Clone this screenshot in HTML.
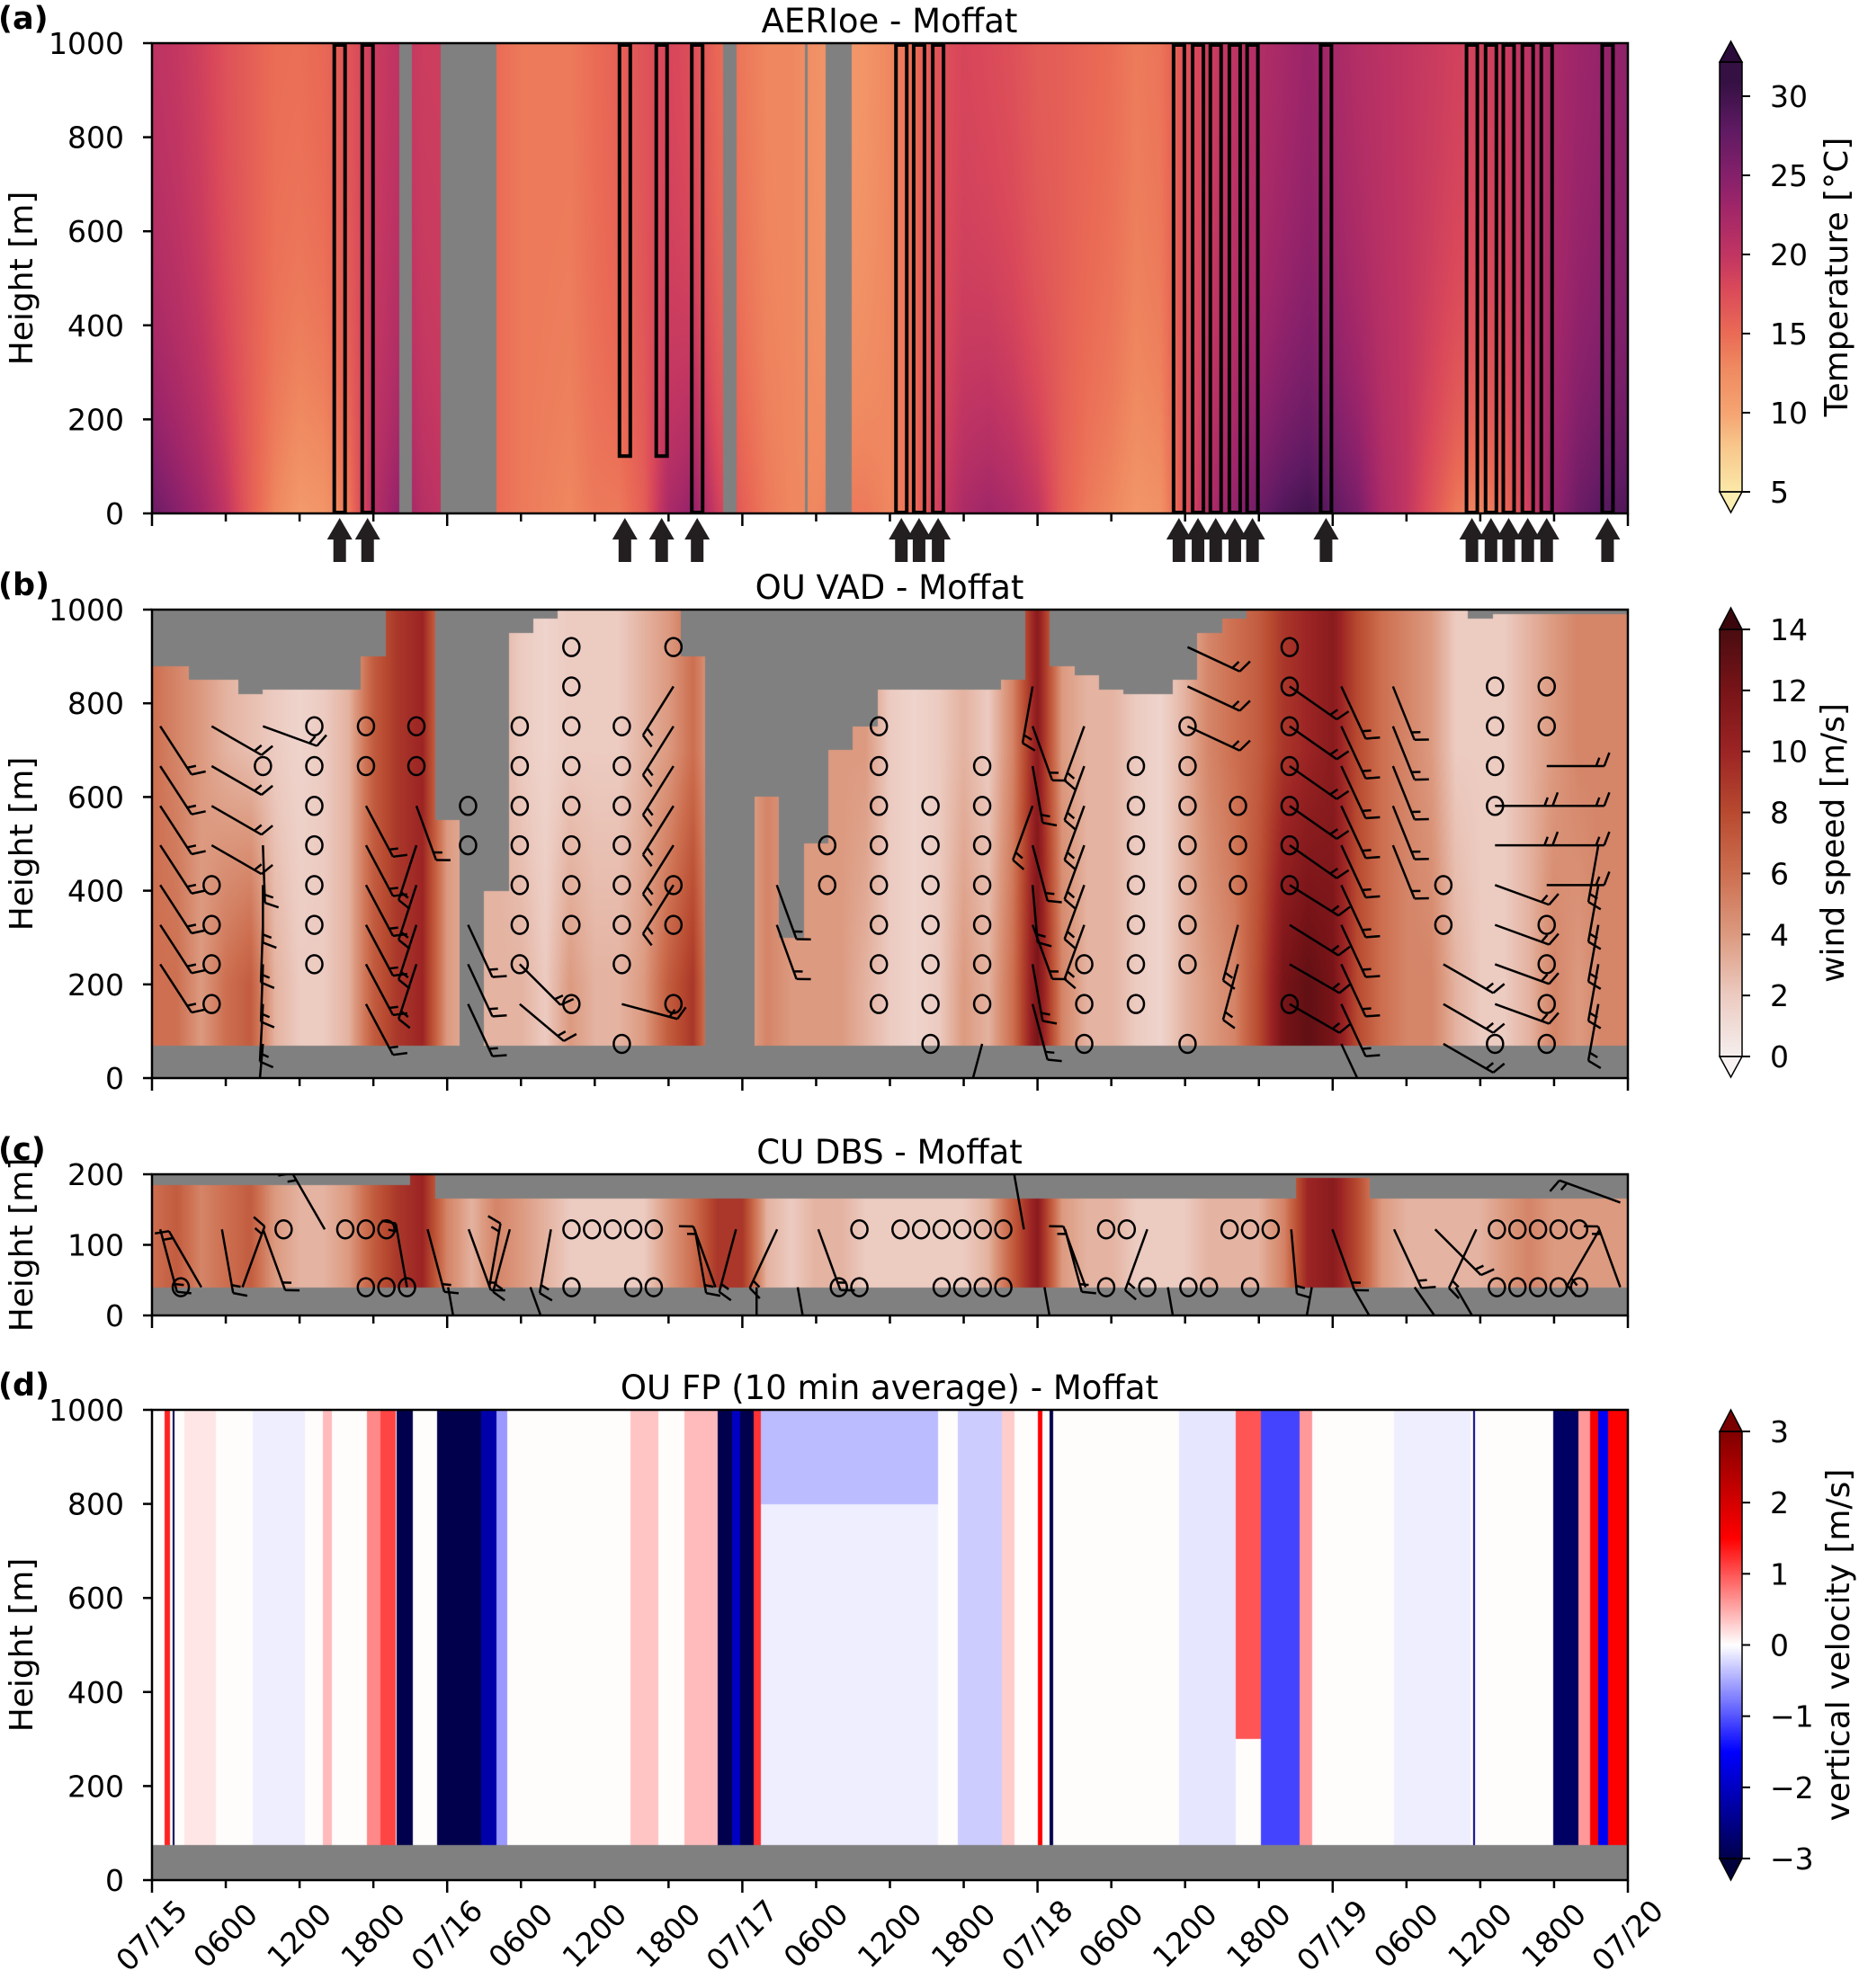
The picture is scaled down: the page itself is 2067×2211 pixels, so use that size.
<!DOCTYPE html>
<html><head><meta charset="utf-8"><style>
body{margin:0;background:#fff}
#root{position:relative;width:2067px;height:2211px;overflow:hidden;background:#fff;font-family:"DejaVu Sans","Liberation Sans",sans-serif}
canvas{position:absolute}
svg{position:absolute;left:0;top:0}
svg text{font-family:"DejaVu Sans","Liberation Sans",sans-serif;fill:#000}
</style></head><body>
<div id="root">
<canvas id="ca"></canvas>
<canvas id="cb"></canvas>
<canvas id="cc"></canvas>
<canvas id="cd"></canvas>
<canvas id="cba"></canvas>
<canvas id="cbb"></canvas>
<canvas id="cbd"></canvas>
<svg id="svg" width="2067" height="2211"></svg>
</div>
<script>
// ---------- data ----------
const tTop=[20,19.5,18.5,17,16,15,15,15.5,17,19,20,19,19,17,15,14,14,14,15,16,17,18,17,15,14,13,13,12,11,11.5,13,15,17,18,17.5,17,16,16,15.5,15,14,14.5,17,19,20,21,22,23,22,21,20.5,20,19.5,19,19,19.5,20.5,22,23,23.5,24];
const tBot=[27,25,23,20,16,13,11,11.5,14,21,24,21,20,17,15,14,13.5,13,14,14,16,22,24,19,16,14,13,13,14,14,13,15,19,22,23,22,20,16,14,13,11.5,12,17,22,24,27,29,30,28,26,22,20,17,14,13,15,19,24,27,28.5,29];
const aGapStart=[20.1,23.5,46.4,53.1,54.8];
const aGapEnd=[21.1,28.0,47.5,53.3,56.9];
const boxHours=[15.26,17.53,38.45,41.44,44.33,60.93,62.37,63.92,83.5,85.05,86.49,88.04,89.48,95.46,107.32,108.87,110.31,111.86,113.4,118.35];
const boxBottom=[0,0,120,120,0,0,0,0,0,0,0,0,0,0,0,0,0,0,0,0];
const bTop=[880,880,850,850,820,830,830,830,830,900,1000,1000,550,70,400,950,980,1000,1000,1000,1000,1000,900,70,70,600,300,500,700,750,830,830,830,830,830,850,1000,880,860,830,820,820,850,950,980,1000,1000,1000,1000,1000,1000,1000,1000,1000,980,990,990,990,990,990,990];
const bLow=[6,6,4,6,7,3,2,2,3,7,9,10,4,3,3,3,2,4,3,3,4,7,9,3,3,5,4,4,4,3,2,1.5,2,4,3,6,12,5,3,3,2,1.5,3,4,5,8,12,13,12,8,6,5,5,3,2,2,3,5,4,5,5];
const bHigh=[6,5,4,3,2.5,2,1.5,2,3,7,9,10,4,3,3,2,1.5,2,2,2,3,4,6,3,3,5,4,4,4,4,2,1.5,2,3,2,5,11,4,3,3,2,1.5,3,5,6,7,9,10,11,8,6,5,4,2,2,2,3,4,5,5,5];
const barbTimes=[0.67,4.85,9.02,13.2,17.4,21.5,25.7,29.9,34.1,38.2,42.4,46.6,50.8,54.9,59.1,63.3,67.5,71.6,75.8,80.0,84.2,88.3,92.5,96.7,100.9,105.0,109.2,113.4,117.6];
const barbLevels=[73,158,243,327,412,497,581,666,751,836,920];
const calmCol=[1,1,1,1,2,3,3,3,3,3,3,3,4,4,5,5,6,6,7,7,7,7,7,7,7,8,8,8,8,8,8,8,8,8,9,9,9,9,9,9,9,9,10,10,10,10,13,13,14,14,14,14,14,14,14,14,15,15,15,15,15,15,15,16,16,16,16,16,16,16,18,18,18,19,19,19,19,19,19,19,20,20,20,20,20,20,20,20,21,21,21,22,22,22,22,22,22,22,22,25,25,26,26,26,26,26,27,27,27,27,27,27];
const calmLev=[1,2,3,4,7,2,3,4,5,6,7,8,7,8,7,8,5,6,2,3,4,5,6,7,8,1,3,4,5,6,7,8,9,10,0,2,3,4,5,6,7,8,1,3,4,10,4,5,1,2,3,4,5,6,7,8,0,1,2,3,4,5,6,1,2,3,4,5,6,7,0,1,2,1,2,3,4,5,6,7,0,2,3,4,5,6,7,8,4,5,6,1,4,5,6,7,8,9,10,3,4,0,6,7,8,9,0,1,2,3,8,9];
const barbCol=[0,0,0,0,0,0,0,1,1,1,1,2,2,2,2,2,2,2,4,4,4,4,4,4,5,5,5,5,5,6,6,6,7,7,9,10,10,10,10,10,10,12,12,16,17,17,17,17,17,17,17,17,17,18,18,18,18,18,18,20,20,20,21,21,22,22,22,22,22,22,22,22,22,23,23,23,23,23,23,23,23,23,23,24,24,24,24,24,25,25,25,26,26,26,26,26,26,27,27,27,27,28,28,28,28,28];
const barbLev=[2,3,4,5,6,7,8,5,6,7,8,0,1,2,3,4,5,8,1,2,3,4,5,6,2,3,4,5,6,1,2,3,1,2,1,4,5,6,7,8,9,3,4,0,1,2,3,4,5,6,7,8,9,3,4,5,6,7,8,8,9,10,2,3,1,2,3,4,5,6,7,8,9,0,1,2,3,4,5,6,7,8,9,5,6,7,8,9,0,1,2,1,2,3,4,5,6,4,5,6,7,1,2,3,4,5];
const barbAng=[57,57,57,57,57,57,57,30,30,30,30,95,93,92,92,90,88,20,62,62,62,62,62,62,108,108,108,108,70,65,65,65,40,45,15,122,122,122,122,122,122,70,70,105,75,80,70,85,75,110,80,70,100,110,110,110,110,110,110,25,25,25,105,105,30,30,32,32,35,35,35,35,35,65,65,65,65,65,65,65,65,65,65,68,68,68,68,68,30,30,30,20,20,20,20,0,0,0,0,0,0,100,100,100,100,100];
const cTop=[185,185,185,185,185,185,185,185,185,185,185,200,165,165,165,165,165,165,165,165,165,165,165,165,165,165,165,165,165,165,165,165,165,165,165,165,165,165,165,165,165,165,165,165,165,165,165,195,195,195,165,165,165,165,165,165,165,165,165,165,165];
const cSpeed=[6,7,5,6,7,4,3,3,4,7,9,10,5,3,5,4,3,2,2,2,2,4,6,9,9,3,2,3,3,2,2,2,2,2,3,7,11,4,3,3,2,2,2,3,3,3,5,10,11,8,4,3,3,3,3,4,5,4,4,4,4];
const cCalmCol=[6,9,10,11,20,21,22,23,24,34,36,37,38,39,40,41,46,47,52,53,54,65,66,67,68,69,1,10,11,12,20,23,24,33,34,38,39,40,41,46,48,50,51,53,65,66,67,68,69];
const cCalmZ=[122,122,122,122,122,122,122,122,122,122,122,122,122,122,122,122,122,122,122,122,122,122,122,122,122,122,40,40,40,40,40,40,40,40,40,40,40,40,40,40,40,40,40,40,40,40,40,40,40];
const cBarbCol=[0,2,3,4,5,8,12,13,14,15,16,17,18,19,26,27,28,29,30,31,32,42,43,44,45,48,49,55,56,57,58,60,61,62,63,64,70,71,71];
const cBarbZ=[122,40,122,40,122,122,40,122,40,122,40,122,40,122,122,40,122,40,122,40,122,122,40,122,40,122,40,122,40,122,40,122,40,122,40,122,122,40,160];
const cBarbAng=[75,240,80,290,70,240,260,75,80,70,280,105,70,100,80,250,105,90,115,80,70,260,80,75,250,110,80,85,100,70,60,65,55,45,60,115,120,250,200];
const wStart=[1.03,1.65,2.6,8.2,13.9,17.5,18.6,19.9,23.2,26.8,28.0,38.9,43.3,46.0,47.2,47.8,48.9,49.5,49.5,65.5,69.1,72.0,73.0,83.5,88.1,90.2,93.3,101.0,107.4,113.9,116.0,116.9,117.6,118.4];
const wEnd=[1.44,1.86,5.2,12.4,14.6,18.6,19.8,21.2,26.8,28.0,28.9,41.2,46.0,47.2,47.8,48.9,49.5,63.9,63.9,69.1,70.1,72.4,73.3,88.1,90.2,93.3,94.3,107.2,107.6,116.0,116.9,117.6,118.4,120];
const wVal=[1.3,-3,0.15,-0.1,0.4,0.7,1.1,-3,-3,-2.2,-0.6,0.35,0.4,-3,-2,-3,1.2,-0.1,-0.4,-0.3,0.3,1.5,-3,-0.15,1.0,-1.1,0.6,-0.1,-2.5,-2.8,0.6,1.6,-1.6,1.5];
const wZlow=[75,75,75,75,75,75,75,75,75,75,75,75,75,75,75,75,75,75,800,75,75,75,75,75,300,75,75,75,75,75,75,75,75,75];
const xTickHours=[0,6,12,18,24,30,36,42,48,54,60,66,72,78,84,90,96,102,108,114,120];
const xTickLabels=["07/15","0600","1200","1800","07/16","0600","1200","1800","07/17","0600","1200","1800","07/18","0600","1200","1800","07/19","0600","1200","1800","07/20"];
const yTicks1000=[0,200,400,600,800,1000];
const yTicks200=[0,100,200];
const tempTicks=[5,10,15,20,25,30];
const windTicks=[0,2,4,6,8,10,12,14];
const velTicks=[-3,-2,-1,0,1,2,3];

// ---------- layout ----------
const X0=169,X1=1810,W=X1-X0;
const P={a:{top:48,bot:571,max:1000},b:{top:678,bot:1199,max:1000},c:{top:1306,bot:1463,max:200},d:{top:1568,bot:2091,max:1000}};
function xOf(h){return X0+h/120*W;}
function yOf(p,z){return p.bot-z/p.max*(p.bot-p.top);}
function interp(arr,h){const f=h/2;const i=Math.min(Math.floor(f),arr.length-2);const t=f-i;return arr[i]*(1-t)+arr[i+1]*t;}
function stepv(arr,h){return arr[Math.min(Math.round(h/2),arr.length-1)];}
function hex(c){return [parseInt(c.slice(1,3),16),parseInt(c.slice(3,5),16),parseInt(c.slice(5,7),16)];}
function cmap(stops,v){if(v<=stops[0][0])return hex(stops[0][1]);for(let i=1;i<stops.length;i++){if(v<=stops[i][0]){const a=stops[i-1],b=stops[i];const t=(v-a[0])/(b[0]-a[0]);const ca=hex(a[1]),cb=hex(b[1]);return [0,1,2].map(k=>Math.round(ca[k]+(cb[k]-ca[k])*t));}}return hex(stops[stops.length-1][1]);}
const TSTOPS=[[5,"#fbe9a9"],[8,"#f8c58a"],[10,"#f5a472"],[13,"#ef8860"],[15,"#ea6b55"],[18,"#d9485a"],[20,"#c13562"],[23,"#a02669"],[25,"#86206b"],[28,"#5e1a62"],[31,"#341043"]];
const WSTOPS=[[0,"#f5efee"],[2,"#eccbc1"],[4,"#dc9a80"],[6,"#cd6f50"],[8,"#b84a30"],[10,"#9c2424"],[12,"#781418"],[14,"#4a0c10"]];
const VSTOPS=[[-3,"#00004c"],[-1.5,"#0000ff"],[0,"#ffffff"],[1.5,"#ff0000"],[3,"#800000"]];
const GRAY=[128,128,128];

function setupCanvas(id,x,y,w,h){const c=document.getElementById(id);c.width=w;c.height=h;c.style.left=x+'px';c.style.top=y+'px';return c.getContext('2d');}
function fillPix(img,w,x,y,col){const o=(y*w+x)*4;img.data[o]=col[0];img.data[o+1]=col[1];img.data[o+2]=col[2];img.data[o+3]=255;}
function drawHeat(id,p,fn){const h=p.bot-p.top;const ctx=setupCanvas(id,X0,p.top,W,h);const img=ctx.createImageData(W,h);
 for(let px=0;px<W;px++){const hr=(px+0.5)/W*120;for(let py=0;py<h;py++){const z=(h-py-0.5)/h*p.max;fillPix(img,W,px,py,fn(hr,z));}}
 ctx.putImageData(img,0,0);}

drawHeat('ca',P.a,(hr,z)=>{for(let i=0;i<aGapStart.length;i++){if(hr>=aGapStart[i]&&hr<=aGapEnd[i])return GRAY;}
 const tt=interp(tTop,hr),tb=interp(tBot,hr);const w=Math.exp(-z/350);return cmap(TSTOPS,tt+(tb-tt)*w);});
drawHeat('cb',P.b,(hr,z)=>{if(z<70)return GRAY;if(z>stepv(bTop,hr))return GRAY;const lo=interp(bLow,hr),hi=interp(bHigh,hr);const t=Math.min(1,Math.max(0,(z-200)/500));return cmap(WSTOPS,lo+(hi-lo)*t);});
drawHeat('cc',P.c,(hr,z)=>{if(z<40)return GRAY;if(z>stepv(cTop,hr))return GRAY;return cmap(WSTOPS,interp(cSpeed,hr));});
drawHeat('cd',P.d,(hr,z)=>{if(z<75)return GRAY;let v=0.02;for(let i=0;i<wStart.length;i++){if(hr>=wStart[i]&&hr<wEnd[i]&&z>=wZlow[i])v=wVal[i];}return cmap(VSTOPS,v);});

function drawCbar(id,x,y0,y1,vmin,vmax,stops){const w=25,h=y1-y0;const ctx=setupCanvas(id,x,y0,w,h);const img=ctx.createImageData(w,h);
 for(let py=0;py<h;py++){const v=vmax-(py+0.5)/h*(vmax-vmin);const c=cmap(stops,v);for(let px=0;px<w;px++)fillPix(img,w,px,py,c);}ctx.putImageData(img,0,0);}
const CBX=1912;
const CB={a:{y0:69,y1:547,vmin:5,vmax:32.2,tip0:46,tip1:570,lo:5,hi:30,yLo:547,yHi:107},
 b:{y0:700,y1:1175,vmin:0,vmax:14,tip0:676,tip1:1198,lo:0,hi:14,yLo:1175,yHi:700},
 d:{y0:1592,y1:2067,vmin:-3,vmax:3,tip0:1568,tip1:2091,lo:-3,hi:3,yLo:2067,yHi:1592}};
drawCbar('cba',CBX,CB.a.y0,CB.a.y1,CB.a.vmin,CB.a.vmax,TSTOPS);
drawCbar('cbb',CBX,CB.b.y0,CB.b.y1,CB.b.vmin,CB.b.vmax,WSTOPS);
drawCbar('cbd',CBX,CB.d.y0,CB.d.y1,CB.d.vmin,CB.d.vmax,VSTOPS);

const NS="http://www.w3.org/2000/svg";const svg=document.getElementById('svg');
function mk(tag,attrs,parent){const e=document.createElementNS(NS,tag);for(const k in attrs)e.setAttribute(k,attrs[k]);(parent||svg).appendChild(e);return e;}
function txt(s,x,y,size,anchor,extra){const t=mk('text',Object.assign({x:x,y:y,'font-size':size,'text-anchor':anchor||'middle'},extra||{}));t.textContent=s;return t;}

// clip paths for panels b and c
const defs=mk('defs',{});
['b','c'].forEach(k=>{const cp=mk('clipPath',{id:'clip'+k},defs);const p=P[k];mk('rect',{x:X0,y:p.top,width:W,height:p.bot-p.top},cp);});

function cbarDecor(cb,topCol,botCol,name){
 const g=mk('g',{});
 
 
 const cx=CBX+12.5;
 mk('polygon',{points:`${CBX},${cb.y0} ${CBX+25},${cb.y0} ${cx},${cb.tip0}`,fill:topCol,stroke:'#000','stroke-width':1.5},g);
 mk('polygon',{points:`${CBX},${cb.y1} ${CBX+25},${cb.y1} ${cx},${cb.tip1}`,fill:botCol,stroke:'#000','stroke-width':1.5},g);
 mk('rect',{x:CBX,y:cb.y0,width:25,height:cb.y1-cb.y0,fill:'none',stroke:'#000','stroke-width':1.5},g);
 return g;}
cbarDecor(CB.a,'#2b0b3a','#fcedb0','temperature-colorbar');
cbarDecor(CB.b,'#3a080c','#f8f3f2','wind-speed-colorbar');
cbarDecor(CB.d,'#7a0000','#00003a','vertical-velocity-colorbar');
function cbTicks(cb,ticks,fmt,name){
 ticks.forEach(v=>{const y=cb.yLo+(v-cb.lo)/(cb.hi-cb.lo)*(cb.yHi-cb.yLo);
  mk('line',{x1:CBX+25,x2:CBX+34,y1:y,y2:y,stroke:'#000','stroke-width':2});
  const t=txt(fmt(v),1968,y+12,33,'start');
  
  });}
cbTicks(CB.a,tempTicks,v=>String(v),'temperature');
cbTicks(CB.b,windTicks,v=>String(v),'wind-speed');
cbTicks(CB.d,velTicks,v=>v<0?'\u2212'+(-v):String(v),'vertical-velocity');
function vlabel(s,x,y,name){const t=txt(s,x,y,36,'middle',{transform:`rotate(-90 ${x} ${y})`});}
vlabel('Temperature [\u00b0C]',2054,(CB.a.y0+CB.a.y1)/2,'temperature-colorbar-label');
vlabel('wind speed [m/s]',2050,(CB.b.y0+CB.b.y1)/2,'wind-speed-colorbar-label');
vlabel('vertical velocity [m/s]',2056,(CB.d.y0+CB.d.y1)/2,'vertical-velocity-colorbar-label');

const titles={a:'AERIoe - Moffat',b:'OU VAD - Moffat',c:'CU DBS - Moffat',d:'OU FP (10 min average) - Moffat'};
const letters={a:'(a)',b:'(b)',c:'(c)',d:'(d)'};
const overlay={};
['a','b','c','d'].forEach(k=>{overlay[k]=mk('g',k==='b'||k==='c'?{'clip-path':'url(#clip'+k+')'}:{});});

// panel a boxes + arrows
boxHours.forEach((h,i)=>{const x=xOf(h);const y1=yOf(P.a,1000)+2,y2=yOf(P.a,boxBottom[i]);
 const b=mk('rect',{x:x-6,y:y1,width:12,height:y2-y1-1,fill:'none',stroke:'#000','stroke-width':4});
 
 
 const a=mk('polygon',{points:`${x},576 ${x+14},600 ${x+7},600 ${x+7},625 ${x-7},625 ${x-7},600 ${x-14},600`,fill:'#231f20'});
 
 });

function barb(x,y,ang,len,name,parent){const g=mk('g',{},parent);
 
 
 const r=ang*Math.PI/180;const ex=x+Math.cos(r)*len,ey=y+Math.sin(r)*len;
 mk('line',{x1:x,y1:y,x2:ex,y2:ey,stroke:'#000','stroke-width':2.5},g);
 const fr=r-Math.PI/2.6;
 mk('line',{x1:ex,y1:ey,x2:ex+Math.cos(fr)*16,y2:ey+Math.sin(fr)*16,stroke:'#000','stroke-width':2.5},g);
 const mx=x+Math.cos(r)*(len-9),my=y+Math.sin(r)*(len-9);
 mk('line',{x1:mx,y1:my,x2:mx+Math.cos(fr)*10,y2:my+Math.sin(fr)*10,stroke:'#000','stroke-width':2.5},g);}
function calm(x,y,name,parent){const c=mk('ellipse',{cx:x,cy:y,rx:9,ry:10,fill:'none',stroke:'#000','stroke-width':2.5},parent);
 
 }

calmCol.forEach((c,i)=>calm(xOf(barbTimes[c]),yOf(P.b,barbLevels[calmLev[i]]),'calm-marker',overlay.b));
barbCol.forEach((c,i)=>barb(xOf(barbTimes[c]),yOf(P.b,barbLevels[barbLev[i]]),barbAng[i],64,'wind-barb',overlay.b));
function cTime(j){return barbTimes[0]+j*(barbTimes[1]-barbTimes[0])/2.5;}
cCalmCol.forEach((j,i)=>calm(xOf(cTime(j)),yOf(P.c,cCalmZ[i]),'calm-marker',overlay.c));
cBarbCol.forEach((j,i)=>barb(xOf(cTime(j)),yOf(P.c,cBarbZ[i]),cBarbAng[i],72,'wind-barb',overlay.c));

['a','b','c','d'].forEach(k=>{const p=P[k];
 const f=mk('rect',{x:X0,y:p.top,width:W,height:p.bot-p.top,fill:'none',stroke:'#000','stroke-width':2.5});
 
 
 xTickHours.forEach((h,i)=>{const x=xOf(h);const len=(h%24===0)?14:9;mk('line',{x1:x,x2:x,y1:p.bot,y2:p.bot+len,stroke:'#000','stroke-width':2.5});
  if(k==='d'){const cy=p.bot+62;const t=txt(xTickLabels[i],x,cy+11,33,'middle',{transform:`rotate(-45 ${x} ${cy})`});
   
   }});
 const yt=(k==='c')?yTicks200:yTicks1000;
 yt.forEach(z=>{const y=yOf(p,z);mk('line',{x1:X0-10,x2:X0,y1:y,y2:y,stroke:'#000','stroke-width':2.5});
  const t=txt(String(z),138,y+12,33,'end');
  
  });
 const yl=(p.top+p.bot)/2;const t=txt('Height [m]',36,yl,36,'middle',{transform:`rotate(-90 36 ${yl})`});
 
 
 const tt=txt(titles[k],989,p.top-12,37,'middle');
 
 
 const lt=txt(letters[k],-2,p.top-16,35,'start',{'font-weight':'bold'});
 
 
});
</script>
</body></html>
